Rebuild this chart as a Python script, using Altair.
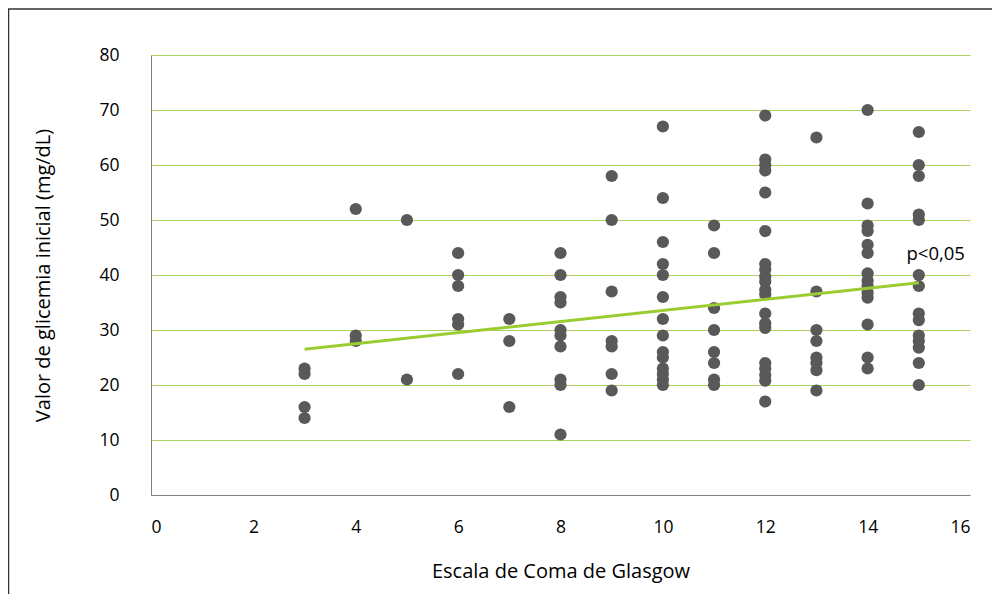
import altair as alt
import pandas as pd

# Glasgow score columns and glycemia values
gcs_3 = [23, 22, 16, 14]
gcs_4 = [52, 29, 28]
gcs_5 = [50, 21]
gcs_6 = [44, 40, 38, 32, 31, 22]
gcs_7 = [32, 28, 16]
gcs_8 = [44, 40, 36, 35, 30, 29, 27, 21, 20, 11]
gcs_9 = [58, 50, 37, 28, 27, 22, 19]
gcs_10 = [67, 54, 46, 42, 40, 36, 32, 29, 26, 25, 23, 22, 21, 20]
gcs_11 = [49, 44, 34, 30, 26, 24, 21, 20]
gcs_12 = [69, 61, 60, 59, 55, 48, 42, 41, 39.7, 38.8, 37.3, 36.5, 33, 31.2, 30.4, 24, 23, 21.8, 20.8, 17]
gcs_13 = [65, 37, 30, 28, 25, 24, 22.7, 19]
gcs_14 = [70, 53, 49, 48, 45.5, 44, 40.3, 39, 38, 36.8, 35.9, 31, 25, 23]
gcs_15 = [66, 60, 58, 51, 50, 40, 38, 33, 31.8, 29, 28, 26.8, 24, 20]

columns = {3: gcs_3, 4: gcs_4, 5: gcs_5, 6: gcs_6, 7: gcs_7, 8: gcs_8, 9: gcs_9,
           10: gcs_10, 11: gcs_11, 12: gcs_12, 13: gcs_13, 14: gcs_14, 15: gcs_15}

trend_x = [3, 15]
trend_y = [26.5, 38.6]

label_x = [15.33]
label_y = [43.9]
label_text = ["p<0,05"]

rows = []
for g, vals in columns.items():
    for v in vals:
        rows.append({"gcs": g, "glic": v})
points_df = pd.DataFrame(rows)
trend_df = pd.DataFrame({"gcs": trend_x, "glic": trend_y})
label_df = pd.DataFrame({"gcs": label_x, "glic": label_y, "t": label_text})

FONT = "Open Sans"

xscale = alt.Scale(domain=[0, 16], nice=False, zero=False)
yscale = alt.Scale(domain=[0, 80], nice=False)

xaxis = alt.Axis(values=list(range(0, 17, 2)), title="Escala de Coma de Glasgow",
                 grid=False, ticks=False, domain=True, domainColor="#808080",
                 labelFont=FONT, labelFontSize=17.5, labelColor="#000000", labelPadding=23,
                 titleFont=FONT, titleFontSize=20, titleFontWeight="normal",
                 titleColor="#000000", titlePadding=26)
yaxis = alt.Axis(values=list(range(0, 81, 10)), title="Valor de glicemia inicial (mg/dL)",
                 grid=True, gridColor="#a9d25c", gridWidth=1.2, ticks=False,
                 domain=True, domainColor="#808080",
                 labelFont=FONT, labelFontSize=17.5, labelColor="#000000", labelPadding=32,
                 titleFont=FONT, titleFontSize=20, titleFontWeight="normal",
                 titleColor="#000000", titlePadding=45)

pts = alt.Chart(points_df).mark_circle(size=150, color="#595959", opacity=1).encode(
    x=alt.X("gcs:Q", scale=xscale, axis=xaxis),
    y=alt.Y("glic:Q", scale=yscale, axis=yaxis),
)

trend = alt.Chart(trend_df).mark_line(color="#9acd32", strokeWidth=3).encode(
    x=alt.X("gcs:Q", scale=xscale),
    y=alt.Y("glic:Q", scale=yscale),
)

label = alt.Chart(label_df).mark_text(font=FONT, fontSize=18.5, color="#000000").encode(
    x=alt.X("gcs:Q", scale=xscale),
    y=alt.Y("glic:Q", scale=yscale),
    text="t:N",
)

frame = alt.Chart(pd.DataFrame({"a": [0]})).mark_rect(
    fill="transparent", stroke="#333333", strokeWidth=1.5
).encode(
    x=alt.value(-142.5), x2=alt.value(860),
    y=alt.value(-46), y2=alt.value(560),
)

chart = alt.layer(frame, pts, trend, label).properties(
    width=819, height=440,
    background="#ffffff",
    autosize=alt.AutoSizeParams(type="none"),
    padding={"left": 143, "top": 47, "right": 22, "bottom": 99},
).configure_view(stroke="transparent", strokeWidth=0)

chart.save("out.html", embed_options={"renderer": "svg", "actions": False})
